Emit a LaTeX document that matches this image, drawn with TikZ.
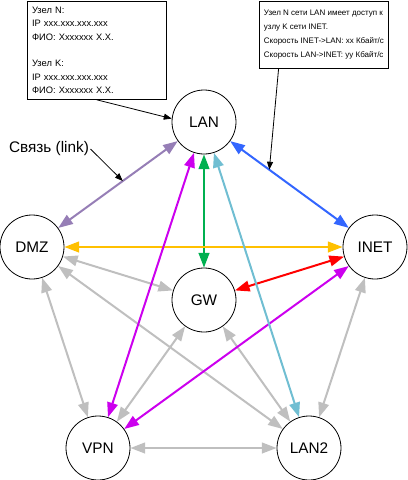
\documentclass[tikz,border=0pt]{standalone}
\usepackage{fontspec}
\setmainfont{Liberation Sans}
\usetikzlibrary{arrows.meta}

\definecolor{linkgrey}{RGB}{191,191,191}
\definecolor{linkviolet}{RGB}{150,126,182}
\definecolor{linkblue}{RGB}{51,102,255}
\definecolor{linkgreen}{RGB}{0,176,80}
\definecolor{linkorange}{RGB}{255,192,0}
\definecolor{linkred}{RGB}{255,0,0}
\definecolor{linkmagenta}{RGB}{204,0,238}
\definecolor{linkcyan}{RGB}{112,190,210}

\begin{document}
\begin{tikzpicture}[x=0.75pt, y=-0.75pt,
    host/.style={circle, draw, line width=0.6pt, fill=white, minimum size=48pt, inner sep=0pt,
        font=\fontsize{11.5}{13}\selectfont},
    note/.style={draw, line width=0.6pt, align=left, inner xsep=3.5pt, inner ysep=3pt,
        font=\fontsize{6}{10.5}\selectfont},
    link/.style={line width=1.5pt, {Triangle[length=11pt,width=8pt]}-{Triangle[length=11pt,width=8pt]}},
    pointer/.style={line width=0.6pt, -{Triangle[length=6pt,width=4.5pt]}}]

    \useasboundingbox (0,0) rectangle (408,480);

    % Hosts
    \node[host] (LAN) at (204,122) {LAN};
    \node[host] (DMZ) at (32,247) {DMZ};
    \node[host] (INET) at (375,247) {INET};
    \node[host] (GW) at (204,300) {GW};
    \node[host] (VPN) at (98,448) {VPN};
    \node[host] (LAN2) at (309,448) {LAN2};

    % Links
    \foreach \a/\b in {DMZ/GW, DMZ/VPN, DMZ/LAN2, GW/VPN, GW/LAN2, VPN/LAN2, INET/LAN2} {
        \draw[link, linkgrey] (\a) -- (\b);
    }
    \draw[link, linkviolet] (LAN) -- coordinate[pos=0.46] (violetpt) (DMZ);
    \draw[link, linkblue] (LAN) -- coordinate[pos=0.33] (bluept) (INET);
    \draw[link, linkgreen] (LAN) -- (GW);
    \draw[link, linkorange] (DMZ) -- (INET);
    \draw[link, linkred] (INET) -- (GW);
    \draw[link, linkmagenta] (INET) -- (VPN);
    \draw[link, linkmagenta] (LAN) -- (VPN);
    \draw[link, linkcyan] (LAN) -- (LAN2);

    % Notes
    \node[note, font=\fontsize{7}{10}\selectfont, anchor=north west, text width=97pt, minimum height=73.5pt] (noteHosts) at (27,1)
        {Узел N:\\IP xxx.xxx.xxx.xxx\\ФИО: Xxxxxxx X.X.\\[10pt]Узел K:\\IP xxx.xxx.xxx.xxx\\ФИО: Xxxxxxx X.X.};
    \node[note, anchor=north east, minimum width=95pt, minimum height=50pt] (noteLink) at (389,1)
        {Узел N сети LAN имеет доступ к\\узлу K сети INET.\\Скорость INET->LAN: xx Кбайт/с\\Скорость LAN->INET: yy Кбайт/с};
    \node[inner sep=1pt, font=\fontsize{11.5}{13}\selectfont] (linkLabel) at (49,149) {Связь (link)};

    \draw[pointer] (noteHosts.south) -- (LAN.174);
    \draw[pointer] ([xshift=-34pt]noteLink.south) -- (bluept);
    \draw[pointer] (linkLabel.east) -- (violetpt);

\end{tikzpicture}
\end{document}
